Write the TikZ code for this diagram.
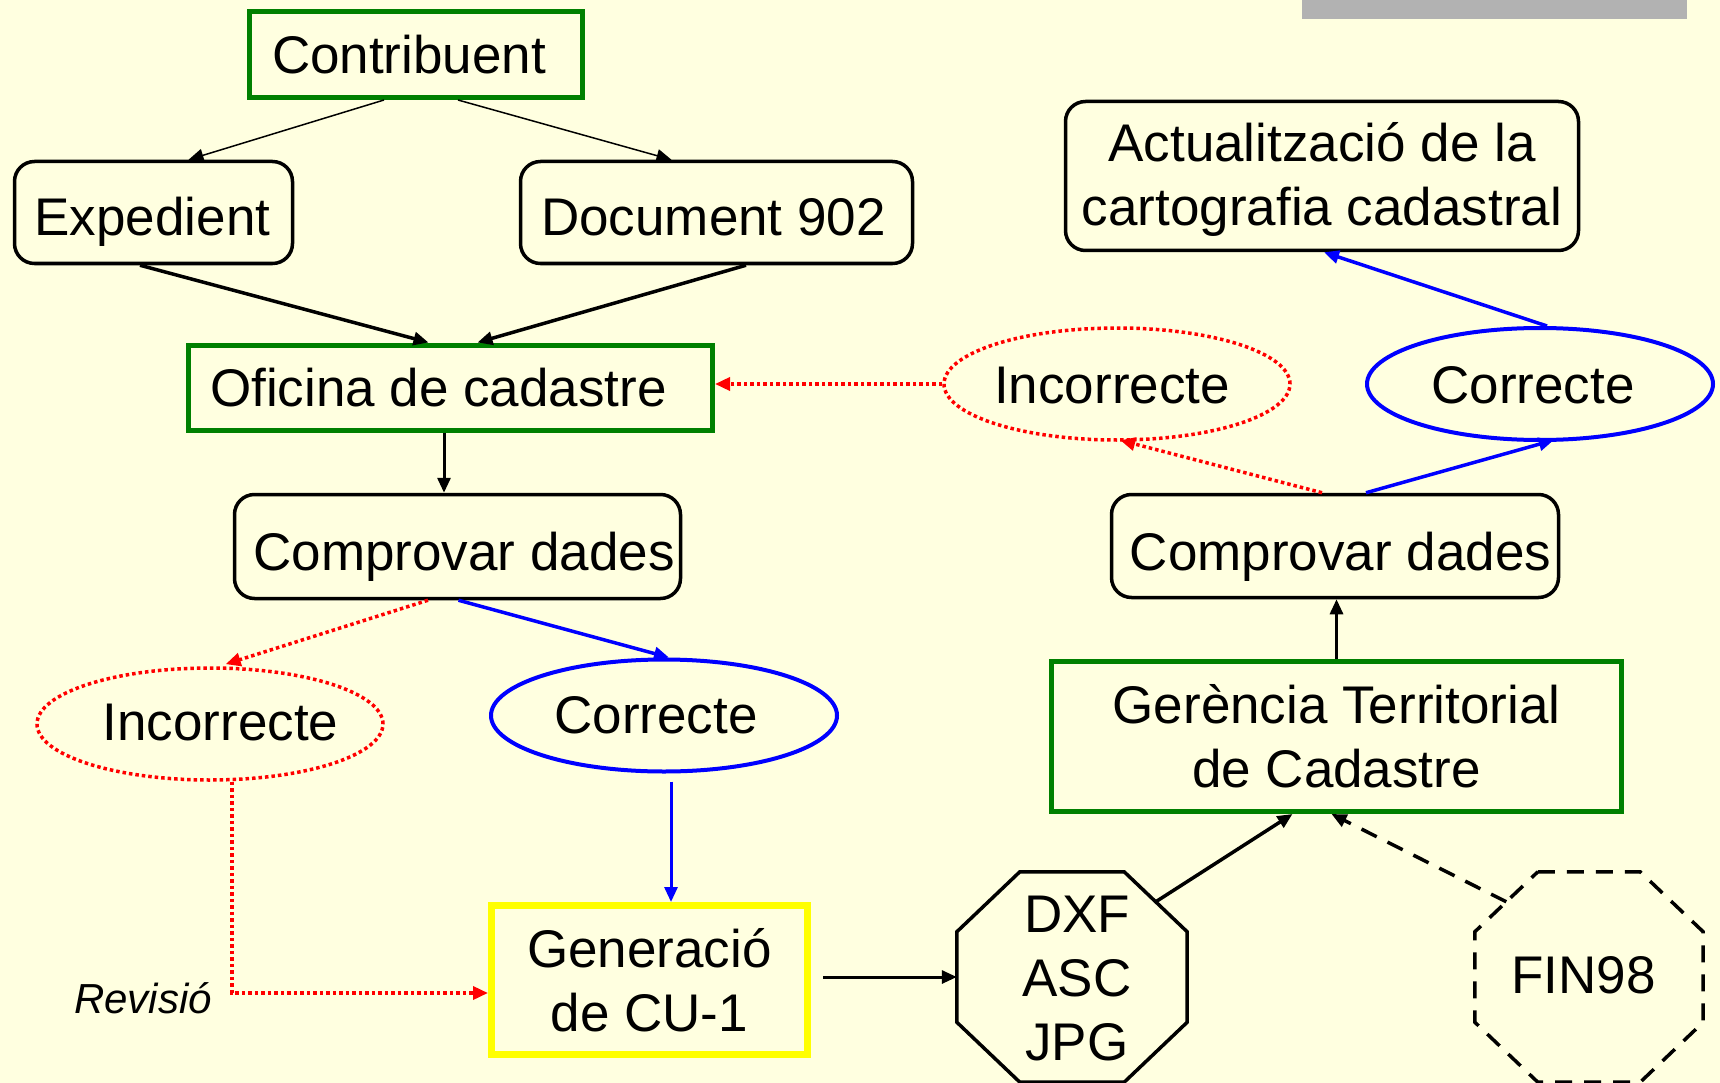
\documentclass[tikz,border=0pt]{standalone}
\usepackage{fontspec}
\setmainfont{Liberation Sans}
\usetikzlibrary{arrows.meta,shapes.geometric,calc}
\definecolor{bgcol}{RGB}{255,255,224}
\definecolor{gcol}{RGB}{0,128,0}
\definecolor{bcol}{RGB}{0,0,255}
\definecolor{rcol}{RGB}{255,0,0}
\definecolor{ycol}{RGB}{255,255,0}
\definecolor{greycol}{RGB}{178,178,178}
\newcommand{\tsh}[2]{\makebox[0pt]{\hspace*{#1}#2}}
\newcommand{\twol}[1]{\begin{tabular}[b]{@{}c@{}}#1\end{tabular}}
\tikzset{
  base/.style={inner sep=0pt, text=black},
  bl/.style={text height=#1, text depth=0pt},
  gbox/.style={base, draw=gcol, line width=5pt},
  ybox/.style={base, draw=ycol, line width=7pt},
  rbox/.style={base, draw=black, line width=3.5pt, rounded corners=20pt},
  blueell/.style={base, ellipse, draw=bcol, line width=4pt, minimum width=346pt, minimum height=112pt},
  redell/.style={base, ellipse, draw=rcol, line width=3.5pt, dash pattern=on 3.5pt off 3pt, minimum width=346pt, minimum height=112pt},
  octarea/.style={base, minimum width=230pt, minimum height=210pt},
  octline/.style={draw=black, line width=3.5pt, line join=miter},
  tip/.style={-{Triangle[length=15pt,width=13pt]}},
  thinarr/.style={tip, draw=black, line width=1.5pt},
  blkarr/.style={tip, draw=black, line width=3.5pt},
  bluearr/.style={tip, draw=bcol, line width=3.5pt},
  redarr/.style={tip, draw=rcol, line width=3.5pt, dash pattern=on 3.5pt off 3pt},
  longdash/.style={dash pattern=on 17pt off 12pt},
}
\begin{document}
\begin{tikzpicture}[x=1pt, y=-1pt, font=\fontsize{53}{64}\selectfont]
\useasboundingbox (0,0) rectangle (1720,1083);
\fill[bgcol] (0,0) rectangle (1720,1083);
\fill[greycol] (1302,0) rectangle (1687,19);

\node[gbox, bl=38pt, minimum width=333pt, minimum height=86pt] (contrib) at (416,54.5) {\tsh{-14pt}{Contribuent}};
\node[rbox, bl=47pt, minimum width=278pt, minimum height=102pt] (exped) at (153.5,212.5) {\tsh{-2pt}{Expedient}};
\node[rbox, bl=47pt, minimum width=392pt, minimum height=102pt] (doc) at (716.5,212.5) {\tsh{-6pt}{Document 902}};
\node[gbox, bl=38pt, minimum width=524pt, minimum height=85pt] (ofi) at (450.5,387.5) {\tsh{-24pt}{Oficina de cadastre}};
\node[rbox, bl=47pt, minimum width=446pt, minimum height=104pt] (compL) at (457.5,546.5) {\tsh{13pt}{Comprovar dades}};
\node[redell, bl=32pt] (incL) at (210,724) {\tsh{21pt}{Incorrecte}};
\node[blueell, bl=36pt] (corL) at (664,715.5) {\tsh{-16pt}{Correcte}};
\node[ybox, bl=103pt, minimum width=316pt, minimum height=149pt] (gen) at (649.5,980) {\twol{Generació\\de CU-1}};
\node[base, bl=28pt, font=\fontsize{42}{48}\selectfont\itshape] (rev) at (143,999) {Revisió};

\node[octarea, bl=166pt] (dxf) at (1072,977) {\tsh{10pt}{\twol{DXF\\ASC\\JPG}}};
\draw[octline] ([xshift=63pt]dxf.north west) -- ([xshift=-63pt]dxf.north east)
  -- ([yshift=-60pt]dxf.north east) -- ([yshift=60pt]dxf.south east)
  -- ([xshift=-63pt]dxf.south east) -- ([xshift=63pt]dxf.south west)
  -- ([yshift=60pt]dxf.south west) -- ([yshift=-60pt]dxf.north west) -- cycle;
\coordinate (dxfc) at ($([xshift=-63pt]dxf.north east)!0.5!([yshift=-60pt]dxf.north east)$);

\node[octarea, bl=32pt, minimum width=228pt] (fin) at (1589,977) {\tsh{-11pt}{FIN98}};
\draw[octline, longdash] ([xshift=63pt]fin.north west) -- ([xshift=-63pt]fin.north east)
  -- ([yshift=-60pt]fin.north east) -- ([yshift=60pt]fin.south east)
  -- ([xshift=-63pt]fin.south east) -- ([xshift=63pt]fin.south west)
  -- ([yshift=60pt]fin.south west) -- ([yshift=-60pt]fin.north west) -- cycle;
\coordinate (finc) at ($([yshift=-60pt]fin.north west)!0.5!([xshift=63pt]fin.north west)$);

\node[gbox, bl=102pt, minimum width=570pt, minimum height=150pt] (ger) at (1336.5,736.5) {\twol{Gerència Territorial\\de Cadastre}};
\node[rbox, bl=49pt, minimum width=447pt, minimum height=103pt] (compR) at (1335,546) {\tsh{11pt}{Comprovar dades}};
\node[redell, bl=38pt] (incR) at (1117,384) {\tsh{-10pt}{Incorrecte}};
\node[blueell, bl=38pt] (corR) at (1540,384) {\tsh{-14pt}{Correcte}};
\node[rbox, bl=100pt, minimum width=513pt, minimum height=149pt] (act) at (1322,176) {\twol{Actualització de la\\cartografia cadastral}};

\draw[thinarr] ([xshift=-32pt]contrib.south) -- ([xshift=35pt]exped.north);
\draw[thinarr] ([xshift=42pt]contrib.south) -- ([xshift=-45pt]doc.north);
\draw[blkarr] ([xshift=-13.5pt]exped.south) -- ([xshift=-22pt]ofi.north);
\draw[blkarr] ([xshift=29.5pt]doc.south) -- ([xshift=27pt]ofi.north);
\draw[blkarr, line width=3pt] ([xshift=-6.5pt]ofi.south) -- ([xshift=-13.5pt]compL.north);
\draw[redarr, shorten >=7pt] ([xshift=-29.5pt]compL.south) -- ([xshift=9pt]incL.north);
\draw[bluearr] ([xshift=1pt]compL.south) -- ([xshift=5pt]corL.north);
\draw[bluearr, line width=3pt, shorten <=8pt] ([xshift=7pt]corL.south) -- ([xshift=21.5pt]gen.north);
\draw[redarr] ([xshift=22pt]incL.south) |- ([yshift=-13pt]gen.west);
\draw[blkarr, line width=3pt, shorten <=12pt] (gen.east |- dxf.west) -- (dxf.west);
\draw[blkarr] (dxfc) -- ([xshift=-44pt]ger.south);
\draw[blkarr, longdash] (finc) -- ([xshift=-5pt]ger.south);
\draw[blkarr, line width=3pt] (ger.north) -- (ger.north |- compR.south);
\draw[redarr, shorten >=-6pt] ([xshift=-13pt]compR.north) -- ([xshift=9pt]incR.south);
\draw[bluearr, shorten >=-7pt] ([xshift=31pt]compR.north) -- ([xshift=7pt]corR.south);
\draw[bluearr] ([xshift=7pt]corR.north) -- ([xshift=2pt]act.south);
\draw[redarr] (incR.west) -- (incR.west -| ofi.east);
\end{tikzpicture}
\end{document}
